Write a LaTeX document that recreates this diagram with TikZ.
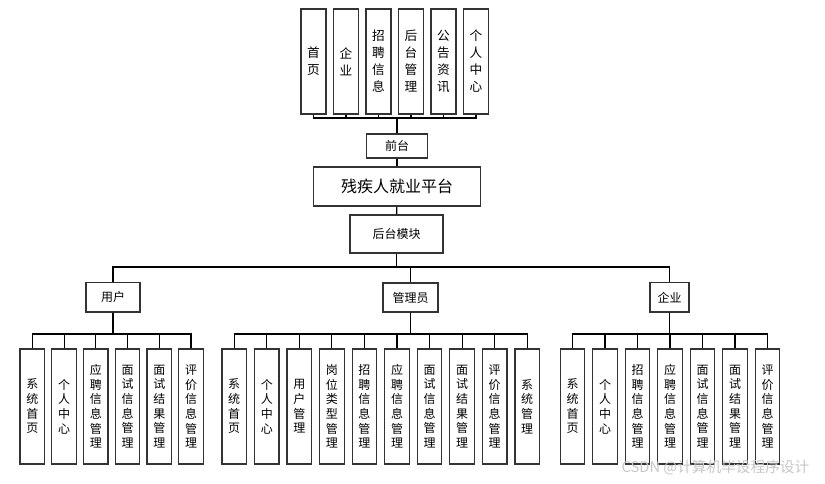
\documentclass[tikz,border=0pt]{standalone}
\usepackage{fontspec}
\setmainfont{Noto Sans CJK SC}
\usepackage{tikz}

\tikzset{
  box/.style={draw=black!80,line width=0.9pt,inner sep=0pt,align=center,fill=white},
  topbox/.style={box,minimum width=18.75pt,minimum height=78.75pt,font=\fontsize{9.5}{12.75}\selectfont},
  vbox/.style={box,minimum width=18.4pt,minimum height=86.25pt,font=\fontsize{9}{11}\selectfont},
  link/.style={line width=0.8pt},
}

\begin{document}
\begin{tikzpicture}[x=0.75pt,y=-0.75pt]
\useasboundingbox (0,0) rectangle (825,484);
\coordinate (fb) at (0,118);
\coordinate (rb) at (0,267);
\coordinate (cb) at (0,334);

% front end
\node[box,minimum width=46pt,minimum height=18pt,font=\fontsize{9}{11}\selectfont] (qt) at (397,146) {前台};
\foreach \t [count=\i] in {首\\页,企\\业,招\\聘\\信\\息,后\\台\\管\\理,公\\告\\资\\讯,个\\人\\中\\心}{
  \node[topbox] (f\i) at ({313.5+32.5*(\i-1)},61.5) {\t};
  \draw[link] (qt.north) -- (qt.north |- fb) -| (f\i.south);
}

% platform and back end
\node[box,minimum width=125.8pt,minimum height=29.25pt,font=\fontsize{12}{14}\selectfont] (pt) at (397,186.5) {残疾人就业平台};
\node[box,minimum width=69.75pt,minimum height=28.5pt,font=\fontsize{9}{11}\selectfont] (ht) at (396.5,234) {后台模块};
\draw[link] (qt) -- (pt);
\draw[link] (pt) -- (ht);

\node[box,minimum width=40.5pt,minimum height=22pt,font=\fontsize{9}{11}\selectfont] (yh) at (113,297.3) {用户};
\node[box,minimum width=41.25pt,minimum height=21.75pt,font=\fontsize{9}{11}\selectfont] (gl) at (410.5,297.5) {管理员};
\node[box,minimum width=29.25pt,minimum height=22pt,font=\fontsize{9}{11}\selectfont] (qy) at (669.5,297.3) {企业};
\foreach \n in {yh,gl,qy}
  \draw[link] (ht.south) -- (ht.south |- rb) -| (\n.north);

% user
\foreach \t [count=\i] in {系\\统\\首\\页,个\\人\\中\\心,应\\聘\\信\\息\\管\\理,面\\试\\信\\息\\管\\理,面\\试\\结\\果\\管\\理,评\\价\\信\\息\\管\\理}{
  \node[vbox] (y\i) at ({32.3+31.74*(\i-1)},406.5) {\t};
  \draw[link] (yh.south) -- (yh.south |- cb) -| (y\i.north);
}

% admin
\foreach \t [count=\i] in {系\\统\\首\\页,个\\人\\中\\心,用\\户\\管\\理,岗\\位\\类\\型\\管\\理,招\\聘\\信\\息\\管\\理,应\\聘\\信\\息\\管\\理,面\\试\\信\\息\\管\\理,面\\试\\结\\果\\管\\理,评\\价\\信\\息\\管\\理,系\\统\\管\\理}{
  \node[vbox] (g\i) at ({234.2+32.56*(\i-1)},406.5) {\t};
  \draw[link] (gl.south) -- (gl.south |- cb) -| (g\i.north);
}

% company
\foreach \t [count=\i] in {系\\统\\首\\页,个\\人\\中\\心,招\\聘\\信\\息\\管\\理,应\\聘\\信\\息\\管\\理,面\\试\\信\\息\\管\\理,面\\试\\结\\果\\管\\理,评\\价\\信\\息\\管\\理}{
  \node[vbox] (c\i) at ({572.5+32.5*(\i-1)},406.5) {\t};
  \draw[link] (qy.south) -- (qy.south |- cb) -| (c\i.north);
}

\node[text=black!22,font=\fontsize{11}{13}\selectfont,anchor=east] (wm) at (814,468) {CSDN @计算机毕设程序设计};
\end{tikzpicture}
\end{document}
